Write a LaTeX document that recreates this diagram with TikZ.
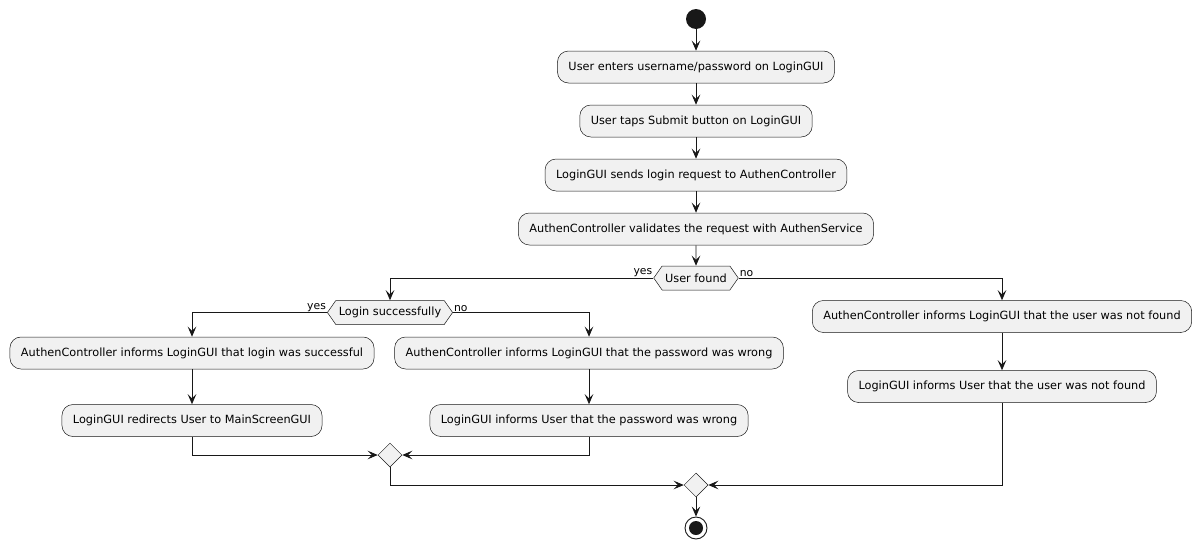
\documentclass[tikz,border=0pt]{standalone}
\usepackage{fontspec}
\setmainfont{DejaVu Sans}
\usetikzlibrary{arrows.meta,shapes.geometric,shapes.symbols}
\definecolor{boxfill}{HTML}{F1F1F1}
\definecolor{boxline}{HTML}{181818}
\tikzset{
  act/.style={draw=boxline, line width=0.5pt, fill=boxfill, rounded corners=11pt,
    minimum height=32pt, inner xsep=11pt, font=\fontsize{11.3}{13}\selectfont},
  dec/.style={draw=boxline, line width=0.5pt, fill=boxfill, signal, signal to=west and east,
    signal pointer angle=110, minimum height=24pt, inner xsep=3pt, inner ysep=0pt, font=\fontsize{11.3}{13}\selectfont},
  mrg/.style={draw=boxline, line width=0.5pt, fill=boxfill, diamond, minimum size=24pt, inner sep=0pt},
  flow/.style={draw=boxline, line width=0.9pt, -{Stealth[length=10pt,width=8.5pt,inset=4pt]}},
  lbl/.style={font=\fontsize{10.8}{12}\selectfont, inner sep=1pt},
}
\begin{document}
\begin{tikzpicture}[x=1pt,y=-1pt]
\useasboundingbox (0,0) rectangle (1202,549);
\node[circle, fill=boxline, minimum size=20pt, inner sep=0pt] (start) at (696,19) {};
\node[act] (a1) at (696,67) {User enters username/password on LoginGUI};
\node[act] (a2) at (696,121) {User taps Submit button on LoginGUI};
\node[act] (a3) at (696,175) {LoginGUI sends login request to AuthenController};
\node[act] (a4) at (696,229) {AuthenController validates the request with AuthenService};
\node[dec] (d1) at (696,278) {User found};
\node[dec] (d2) at (390,312.5) {Login successfully};
\node[act] (l1) at (192,353) {AuthenController informs LoginGUI that login was successful};
\node[act] (l2) at (192,420.5) {LoginGUI redirects User to MainScreenGUI};
\node[act] (m1) at (589,353) {AuthenController informs LoginGUI that the password was wrong};
\node[act] (m2) at (589,420.5) {LoginGUI informs User that the password was wrong};
\node[act] (r1) at (1002,316.5) {AuthenController informs LoginGUI that the user was not found};
\node[act] (r2) at (1002,386.5) {LoginGUI informs User that the user was not found};
\node[mrg] (j1) at (390,455) {};
\node[mrg] (j2) at (696,485) {};
\node[circle, draw=boxline, line width=0.9pt, fill=white, minimum size=22pt, inner sep=0pt] (stop) at (696,528) {};
\node[circle, fill=boxline, minimum size=14pt, inner sep=0pt] (stopin) at (696,528) {};
\node[lbl, anchor=south east] (y1) at (d1.west) {yes};
\node[lbl, anchor=south west] (n1) at (d1.east) {no};
\node[lbl, anchor=south east] (y2) at (d2.west) {yes};
\node[lbl, anchor=south west] (n2) at (d2.east) {no};
\draw[flow] (start) -- (a1);
\draw[flow] (a1) -- (a2);
\draw[flow] (a2) -- (a3);
\draw[flow] (a3) -- (a4);
\draw[flow] (a4) -- (d1);
\draw[flow] (d1.west) -| (d2.north);
\draw[flow] (d1.east) -| (r1.north);
\draw[flow] (d2.west) -| (l1.north);
\draw[flow] (d2.east) -| (m1.north);
\draw[flow] (l1) -- (l2);
\draw[flow] (m1) -- (m2);
\draw[flow] (r1) -- (r2);
\draw[flow] (l2.south) |- (j1.west);
\draw[flow] (m2.south) |- (j1.east);
\draw[flow] (j1.south) |- (j2.west);
\draw[flow] (r2.south) |- (j2.east);
\draw[flow] (j2) -- (stop);
\end{tikzpicture}
\end{document}
